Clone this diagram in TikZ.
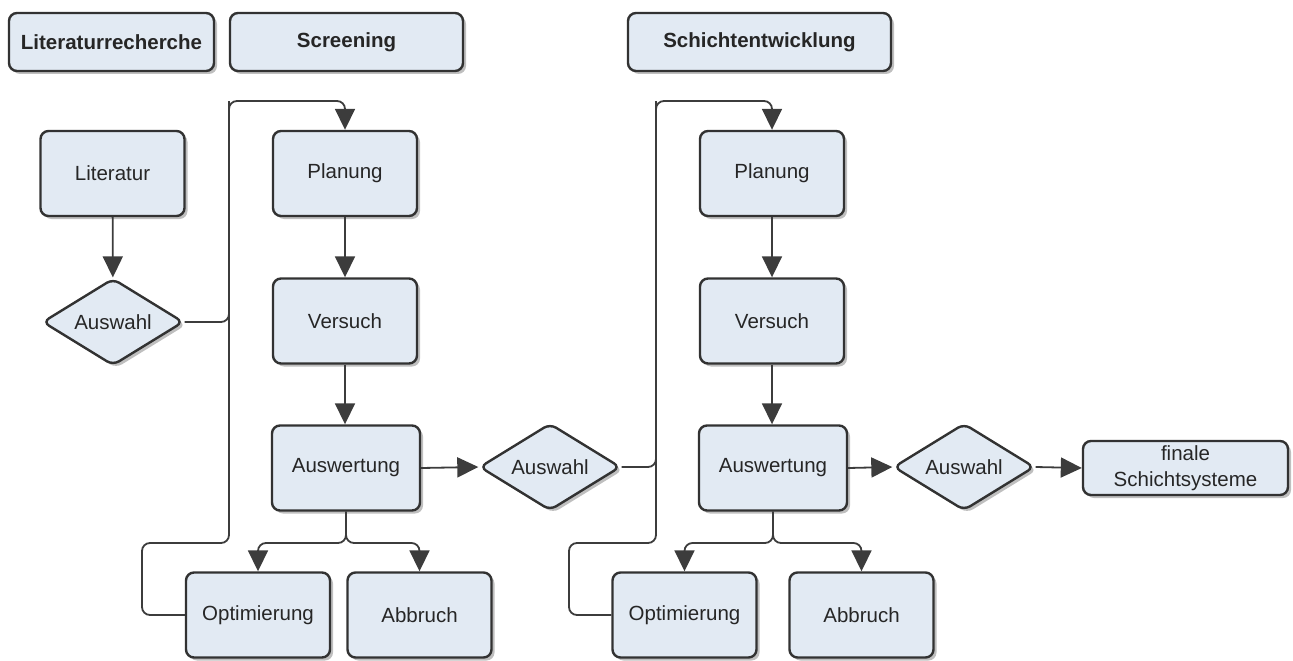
\documentclass[tikz,border=0pt]{standalone}
\usepackage{fontspec}
\setmainfont{Liberation Sans}
\usetikzlibrary{arrows.meta,shapes.geometric,shadows}
\definecolor{boxfill}{RGB}{226,234,243}
\definecolor{boxline}{RGB}{50,50,50}
\definecolor{connline}{RGB}{60,60,60}
\tikzset{
  shad/.style={drop shadow={shadow xshift=3pt,shadow yshift=-3pt,fill=black,opacity=0.25}},
  boxbase/.style={draw=boxline,line width=2.4pt,fill=boxfill,rounded corners=8pt,shad,inner sep=2pt,align=center,text=black!85},
  procbox/.style={boxbase,rectangle,minimum width=144pt,minimum height=85pt,font=\fontsize{20.5}{24}\selectfont},
  headbox/.style={boxbase,rectangle,minimum height=58pt,font=\fontsize{20.5}{24}\selectfont\bfseries},
  decide/.style={boxbase,diamond,shape aspect=1.63,minimum width=141pt,minimum height=87pt,inner sep=0pt,rounded corners=7pt,font=\fontsize{20.5}{24}\selectfont},
  conn/.style={draw=connline,line width=1.8pt,rounded corners=8pt},
  arr/.style={conn,-{Triangle[length=21pt,width=20pt]}}
}
\begin{document}
\begin{tikzpicture}[x=1pt,y=1pt]
\useasboundingbox (0,0) rectangle (1293,-661);
% headers
\node[headbox,minimum width=205pt] (h1) at (111.5,-42) {Literaturrecherche};
\node[headbox,minimum width=233pt] (h2) at (346.5,-42) {Screening};
\node[headbox,minimum width=263pt] (h3) at (759.5,-42) {Schichtentwicklung};
% column 1
\node[procbox] (lit) at (112.5,-173.5) {Literatur};
\node[decide] (aus1) at (113,-322) {Auswahl};
% screening
\node[procbox] (plan1) at (345,-173.5) {Planung};
\node[procbox] (vers1) at (345,-321) {Versuch};
\node[procbox,minimum width=148pt] (ausw1) at (346,-468) {Auswertung};
\node[procbox] (opt1) at (258,-615) {Optimierung};
\node[procbox] (abb1) at (419.5,-615) {Abbruch};
\node[decide] (aus2) at (550,-467) {Auswahl};
% Schichtentwicklung
\node[procbox] (plan2) at (772,-173.5) {Planung};
\node[procbox] (vers2) at (772,-321) {Versuch};
\node[procbox,minimum width=148pt] (ausw2) at (773,-468) {Auswertung};
\node[procbox] (opt2) at (684.5,-615) {Optimierung};
\node[procbox] (abb2) at (861.5,-615) {Abbruch};
\node[decide] (aus3) at (964,-467) {Auswahl};
\node[boxbase,rectangle,minimum width=205pt,minimum height=54pt,font=\fontsize{20.5}{26}\selectfont] (fin) at (1185.5,-468) {finale\\Schichtsysteme};
% junction coordinates
\coordinate (j1) at (229,-101);
\coordinate (l1) at (142,-543);
\coordinate (s1) at (346,-543);
\coordinate (j2) at (656,-101);
\coordinate (l2) at (569,-543);
\coordinate (s2) at (773,-543);
% connectors
\draw[arr] (lit) -- (aus1);
\draw[arr] (aus1.east) -| (j1) -| (plan1.north);
\draw[conn] (opt1.west) -| (l1) -| (j1);
\draw[arr] (plan1) -- (vers1);
\draw[arr] (vers1.south) -- (vers1.south |- ausw1.north);
\draw[arr] (ausw1.south) -- (s1) -| (opt1.north);
\draw[arr] (ausw1.south) -- (s1) -| (abb1.north);
\draw[arr] (ausw1.east) -- (aus2.west);
\draw[arr] (aus2.east) -| (j2) -| (plan2.north);
\draw[conn] (opt2.west) -| (l2) -| (j2);
\draw[arr] (plan2) -- (vers2);
\draw[arr] (vers2.south) -- (vers2.south |- ausw2.north);
\draw[arr] (ausw2.south) -- (s2) -| (opt2.north);
\draw[arr] (ausw2.south) -- (s2) -| (abb2.north);
\draw[arr] (ausw2.east) -- (aus3.west);
\draw[arr] (aus3.east) -- (fin.west);
\end{tikzpicture}
\end{document}
